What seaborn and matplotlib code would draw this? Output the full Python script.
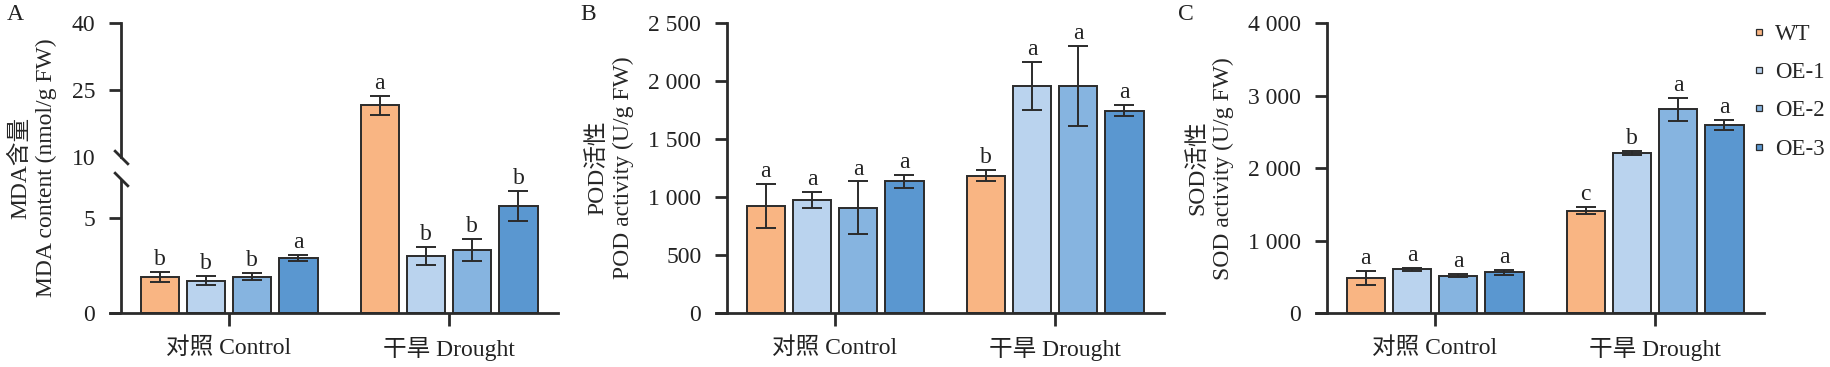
import numpy as np
import pandas as pd
import seaborn as sns
import matplotlib.pyplot as plt
from matplotlib.lines import Line2D
from matplotlib.patches import Rectangle
from matplotlib.ticker import FuncFormatter
from matplotlib.transforms import blended_transform_factory

groups = ["对照 Control", "干旱 Drought"]
lines = ["WT", "OE-1", "OE-2", "OE-3"]
colors = ["#F9B583", "#BAD3EE", "#86B4E0", "#5A97D0"]

# values are group-major: control WT..OE-3, then drought WT..OE-3
mda_mean = [1.9, 1.7, 1.9, 2.9, 21.5, 3.0, 3.3, 5.6]
mda_err = [0.25, 0.22, 0.18, 0.15, 2.2, 0.48, 0.6, 0.8]
mda_letters = ["b", "b", "b", "a", "a", "b", "b", "b"]

pod_mean = [920, 975, 910, 1135, 1185, 1960, 1960, 1745]
pod_err = [190, 72, 225, 55, 50, 210, 345, 47]
pod_letters = ["a", "a", "a", "a", "b", "a", "a", "a"]

sod_mean = [480, 605, 515, 560, 1415, 2215, 2810, 2595]
sod_err = [100, 20, 20, 30, 45, 28, 160, 65]
sod_letters = ["a", "a", "a", "a", "c", "b", "a", "a"]

FS = 17

sns.set_theme(style="ticks")
plt.rcParams["font.family"] = ["Liberation Serif", "Noto Sans CJK SC"]
ink = "#2b2b2b"
plt.rcParams.update({
    "axes.linewidth": 2.0,
    "axes.edgecolor": ink,
    "xtick.major.width": 2.0,
    "ytick.major.width": 2.0,
    "xtick.major.size": 9.4,
    "ytick.major.size": 8.6,
    "xtick.color": ink,
    "ytick.color": ink,
    "xtick.labelcolor": "#222222",
    "ytick.labelcolor": "#222222",
    "xtick.major.pad": 8,
    "ytick.major.pad": 10,
    "font.size": FS,
})

W, H = 1831, 367
fig = plt.figure(figsize=(W / 100, H / 100), dpi=100)
bot, hgt, wid = 54 / H, 289.7 / H, 448 / W
axA = fig.add_axes([110 / W, bot, wid, hgt])
axB = fig.add_axes([716 / W, bot, wid, hgt])
axC = fig.add_axes([1316 / W, bot, wid, hgt])


def frame(mean):
    return pd.DataFrame({
        "group": [g for g in groups for _ in lines],
        "line": [l for _ in groups for l in lines],
        "value": mean,
    })


def draw(ax, mean, err, letters):
    df = frame(mean)
    sns.barplot(data=df, x="group", y="value", hue="line", order=groups,
                hue_order=lines, palette=colors, saturation=1, width=0.84,
                gap=0.17, errorbar=None, edgecolor=ink, linewidth=1.4,
                legend=False, ax=ax)
    bars = [p for p in ax.patches if isinstance(p, Rectangle) and p.get_height() > 0]
    bars = sorted(bars, key=lambda p: p.get_x())
    for k, bar in enumerate(bars):
        xc = bar.get_x() + bar.get_width() / 2
        ax.errorbar(xc, mean[k], yerr=err[k], fmt="none", ecolor=ink,
                    elinewidth=1.4, capsize=7, capthick=1.4, zorder=5)
        ax.annotate(letters[k], (xc, mean[k] + err[k]), xytext=(0, 5),
                    textcoords="offset points", ha="center",
                    va="baseline", fontsize=FS, color="#222222")
    ax.set_xlim(-0.541, 1.495)
    ax.set_xlabel("")
    ax.spines["top"].set_visible(False)
    ax.spines["right"].set_visible(False)
    ax.spines["left"].set_position(("axes", 0.025))
    ax.tick_params(axis="both", labelsize=FS)


# panel A: broken axis, 0-7 and 10-40
bv = np.array([0, 7, 10, 40])
bp = np.array([0, 133.7, 156.6, 290.0])


def fwd(v):
    v = np.asarray(v, dtype=float)
    out = np.interp(v, bv, bp)
    out = np.where(v < 0, v * (bp[1] / bv[1]), out)
    out = np.where(v > 40, bp[-1] + (v - 40) * (bp[3] - bp[2]) / 30, out)
    return out


def inv(p):
    p = np.asarray(p, dtype=float)
    out = np.interp(p, bp, bv)
    out = np.where(p < 0, p / (bp[1] / bv[1]), out)
    out = np.where(p > bp[-1], 40 + (p - bp[-1]) * 30 / (bp[3] - bp[2]), out)
    return out


draw(axA, mda_mean, mda_err, mda_letters)
axA.set_yscale("function", functions=(fwd, inv))
axA.set_ylim(0, 40)
axA.set_yticks([0, 5, 10, 25, 40])
axA.set_yticklabels(["0", "5", "10", "25", "40"])
axA.yaxis.get_major_ticks()[2].tick1line.set_visible(False)
axA.spines["left"].set_bounds(10, 40)
tr = blended_transform_factory(axA.transAxes, axA.transData)
axA.plot([0.025, 0.025], [0, 7], transform=tr, color=ink, lw=2.0,
         clip_on=False, solid_capstyle="butt")
axA.plot([0.025, 0.025], [10, 7], transform=tr, marker=[(-1, 1), (1, -1)],
         markersize=10.5, linestyle="none", color=ink, mec=ink, mew=2.0,
         clip_on=False)
axA.set_ylabel("MDA含量\nMDA content (nmol/g FW)", fontsize=FS,
               linespacing=1.3)
axA.yaxis.set_label_coords(-0.118, 0.5)

space_fmt = FuncFormatter(lambda v, p: f"{int(round(v)):,}".replace(",", " "))

draw(axB, pod_mean, pod_err, pod_letters)
axB.set_ylim(0, 2500)
axB.set_yticks(np.arange(0, 2501, 500))
axB.yaxis.set_major_formatter(space_fmt)
axB.set_ylabel("POD活性\nPOD activity (U/g FW)", fontsize=FS, linespacing=1.3)
axB.yaxis.set_label_coords(-0.182, 0.5)

draw(axC, sod_mean, sod_err, sod_letters)
axC.set_ylim(0, 4000)
axC.set_yticks(np.arange(0, 4001, 1000))
axC.yaxis.set_major_formatter(space_fmt)
axC.set_ylabel("SOD活性\nSOD activity (U/g FW)", fontsize=FS, linespacing=1.3)
axC.yaxis.set_label_coords(-0.182, 0.5)

for lab, x in zip(["A", "B", "C"], [7, 580, 1178]):
    fig.text(x / W, 1 - 4 / H, lab, ha="left", va="top", fontsize=FS,
             color="#222222")

handles = [Line2D([], [], marker="s", linestyle="none", markersize=4.2,
                  markerfacecolor=c, markeredgecolor=ink, markeredgewidth=0.9)
           for c in colors]
fig.legend(handles, lines, loc="upper left", bbox_to_anchor=(1752 / W, 1 - 24 / H),
           frameon=False, fontsize=16.5, handlelength=0.6, handletextpad=0.4,
           labelspacing=0.75, borderpad=0, borderaxespad=0)

fig.savefig("out.png", dpi=100)
